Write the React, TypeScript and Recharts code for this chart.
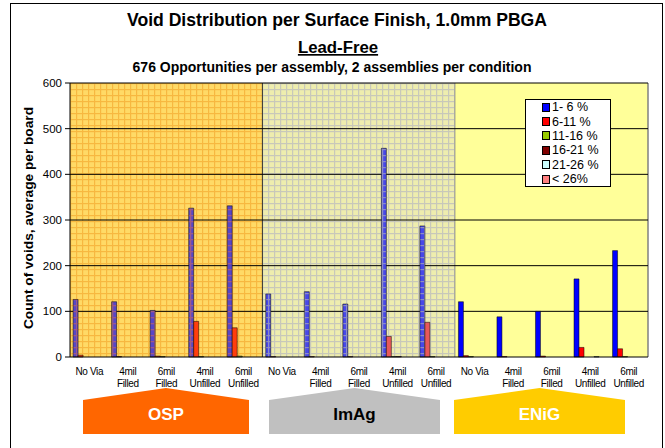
import React from "react";
import {
  BarChart, Bar, Cell, XAxis, YAxis, ReferenceArea, ReferenceLine,
} from "recharts";

const FINISHES = ["OSP", "ImAg", "ENiG"];
const VIAS = ["No Via", "4mil\nFilled", "6mil\nFilled", "4mil\nUnfilled", "6mil\nUnfilled"];
const SERIES_NAMES = ["1- 6 %", "6-11 %", "11-16 %", "16-21 %", "21-26 %", "< 26%"];

// values per category: OSP x5, ImAg x5, ENiG x5
const V_1_6 = [126, 121, 102, 326, 331, 138, 143, 116, 457, 287, 121, 88, 100, 171, 233];
const V_6_11 = [4, 1, 2, 78, 64, 1, 1, 1, 45, 76, 3, 1, 2, 21, 18];
const V_11_16 = [0, 0, 1, 1, 2, 0, 0, 0, 1, 1, 1, 0, 0, 0, 1];
const V_16_21 = [0, 0, 0, 0, 0, 0, 0, 0, 1, 0, 0, 0, 0, 0, 0];
const V_21_26 = [0, 0, 0, 0, 0, 0, 0, 0, 0, 0, 0, 0, 0, 1, 0];
const V_26 = [0, 0, 0, 0, 0, 0, 0, 0, 0, 0, 0, 0, 0, 0, 0];
const Y_TICKS = [0, 100, 200, 300, 400, 500, 600];

const SERIES = [V_1_6, V_6_11, V_11_16, V_16_21, V_21_26, V_26];
const LEGEND_COLORS = ["#0000ff", "#ff0000", "#99cc00", "#800000", "#ccffff", "#ff8080"];
// fill per series, per finish region (OSP / ImAg / ENiG)
const REGION_FILLS = [
  ["url(#ospBlue)", "url(#imagBlue)", "#0000ff"],
  ["#ff3d0d", "#e8585a", "#ff0000"],
  ["#a8c020", "#a0c040", "#99cc00"],
  ["#802010", "#803030", "#800000"],
  ["#d8f0d0", "#d0f0f0", "#ccffff"],
  ["#ff8060", "#f09090", "#ff8080"],
];
const REGION_BG = ["url(#ospBg)", "url(#imagBg)", "#ffff99"];
const REGION_EDGE = ["#000", "#808080", "#808080"];

const keyOf = (f: string, v: string) => `${f}|${v}`;

const rows = FINISHES.flatMap((f, fi) =>
  VIAS.map((v, vi) => {
    const i = fi * VIAS.length + vi;
    const row: Record<string, string | number> = { key: keyOf(f, v), region: fi };
    SERIES_NAMES.forEach((s, si) => { row[s] = SERIES[si][i]; });
    return row;
  })
);

const FONT = "'Liberation Sans', Arial, sans-serif";
const NARROW = "'Liberation Sans Narrow', 'Arial Narrow', 'Liberation Sans', sans-serif";

function ViaTick({ x, y, payload }: any) {
  const lines = String(payload.value).split("|")[1].split("\n");
  return (
    <text x={x} y={y + 10} textAnchor="middle" fontSize={10} letterSpacing={-0.35} fontFamily={NARROW} fill="#000">
      {lines.map((l, i) => (
        <tspan key={i} x={x} dy={i === 0 ? 0 : 11.7}>{l}</tspan>
      ))}
    </text>
  );
}

function RegionShape({ x, y, width, height, fill, edge }: any) {
  return (
    <g>
      <rect x={x} y={y} width={width} height={height} fill={fill} />
      <line x1={x + width} x2={x + width} y1={y} y2={y + height} stroke={edge} strokeWidth={1.5} />
    </g>
  );
}

function LegendBox() {
  return (
    <div style={{ position: "absolute", left: 525, top: 99, background: "#fff", border: "1px solid #000", width: 86, height: 88, boxSizing: "border-box", padding: "0 0 0 16px" }}>
      {SERIES_NAMES.map((s, i) => (
        <div key={s} style={{ display: "flex", alignItems: "center", height: 14.4, fontFamily: FONT, fontSize: 12.5, color: "#000", whiteSpace: "nowrap" }}>
          <span style={{ width: 6, height: 7, border: "1px solid #000", background: LEGEND_COLORS[i], marginRight: 2, display: "inline-block" }} />
          {s}
        </div>
      ))}
    </div>
  );
}

function Banner({ x1, x2, fill, label, color }: { x1: number; x2: number; fill: string; label: string; color: string }) {
  const mid = (x1 + x2) / 2;
  return (
    <g>
      <polygon points={`${x1},400 ${mid},388 ${x2},400 ${x2},434 ${x1},434`} fill={fill} />
      <text x={mid} y={420} textAnchor="middle" fontFamily={FONT} fontWeight="bold" fontSize={17} fill={color}>{label}</text>
    </g>
  );
}

export default function App() {
  return (
    <div style={{ position: "absolute", left: 0, top: 0, width: 665, height: 448, background: "#fff", overflow: "hidden" }}>
      <svg width={0} height={0} style={{ position: "absolute" }}>
        <defs>
          <pattern id="ospBg" patternUnits="userSpaceOnUse" width={6} height={6} x={70} y={83}>
            <rect width={6} height={6} fill="#ffda66" />
            <rect width={6} height={1.2} fill="#f7b840" />
            <rect width={1.2} height={6} fill="#f7b840" />
          </pattern>
          <pattern id="imagBg" patternUnits="userSpaceOnUse" width={6} height={6} x={70} y={83}>
            <rect width={6} height={6} fill="#eeedae" />
            <rect width={6} height={1.2} fill="#c8c8ba" />
            <rect width={1.2} height={6} fill="#c8c8ba" />
          </pattern>
          <pattern id="ospBlue" patternUnits="userSpaceOnUse" width={6} height={6} x={70} y={83}>
            <rect width={6} height={6} fill="#5846c6" />
            <rect width={6} height={1.3} fill="#9a5a8c" />
            <rect width={1.3} height={6} fill="#9a5a8c" />
          </pattern>
          <pattern id="imagBlue" patternUnits="userSpaceOnUse" width={6} height={6} x={70} y={83}>
            <rect width={6} height={6} fill="#4848e8" />
            <rect width={6} height={1.2} fill="#8c8cc8" />
            <rect width={1.2} height={6} fill="#8c8cc8" />
          </pattern>
        </defs>
      </svg>

      <div style={{ position: "absolute", left: 10, top: 3, width: 653, height: 470, border: "1.5px solid #000", boxSizing: "border-box" }} />

      <BarChart
        width={665}
        height={448}
        data={rows}
        margin={{ top: 83, right: 17, bottom: 0, left: 0 }}
        barCategoryGap="8%"
        barGap={0}
        style={{ position: "absolute", left: 0, top: 0 }}
      >
        <XAxis
          dataKey="key"
          interval={0}
          tick={<ViaTick />}
          tickLine={false}
          axisLine={{ stroke: "#000" }}
          height={91}
        />
        <YAxis
          domain={[0, 600]}
          ticks={Y_TICKS}
          width={70}
          tickSize={5}
          tickMargin={3}
          tick={{ fontSize: 11.5, fill: "#000", fontFamily: FONT }}
          axisLine={{ stroke: "#000" }}
          tickLine={{ stroke: "#000" }}
        />
        {FINISHES.map((f, i) => (
          <ReferenceArea
            key={f}
            x1={keyOf(f, VIAS[0])}
            x2={keyOf(f, VIAS[VIAS.length - 1])}
            y1={0}
            y2={600}
            shape={(p: any) => <RegionShape {...p} fill={REGION_BG[i]} edge={REGION_EDGE[i]} />}
            ifOverflow="visible"
            zIndex={-90}
          />
        ))}
        {Y_TICKS.slice(1).map((t) => (
          <ReferenceLine key={t} y={t} stroke="#000" strokeWidth={1} zIndex={-80} />
        ))}
        {SERIES_NAMES.map((s, si) => (
          <Bar key={s} dataKey={s} fill={LEGEND_COLORS[si]} stroke="#000" strokeWidth={0.5} isAnimationActive={false}>
            {rows.map((r, i) => (
              <Cell key={i} fill={REGION_FILLS[si][r.region as number]} />
            ))}
          </Bar>
        ))}
      </BarChart>

      <LegendBox />

      <svg width={665} height={448} style={{ position: "absolute", left: 0, top: 0, pointerEvents: "none" }}>
        <text x={337} y={26} textAnchor="middle" fontFamily={FONT} fontWeight="bold" fontSize={17.6}>
          Void Distribution per Surface Finish, 1.0mm PBGA
        </text>
        <text x={338} y={53} textAnchor="middle" fontFamily={FONT} fontWeight="bold" fontSize={16.8} textDecoration="underline">
          Lead-Free
        </text>
        <text x={332} y={72} textAnchor="middle" fontFamily={FONT} fontWeight="bold" fontSize={14}>
          676 Opportunities per assembly, 2 assemblies per condition
        </text>
        <text transform="translate(33,218) rotate(-90)" textAnchor="middle" fontFamily={FONT} fontWeight="bold" fontSize={13.7}>
          Count of voids, average per board
        </text>
        <Banner x1={83} x2={249} fill="#ff6600" label="OSP" color="#fff" />
        <Banner x1={269} x2={440} fill="#c0c0c0" label="ImAg" color="#000" />
        <Banner x1={454} x2={625} fill="#ffcc00" label="ENiG" color="#fff" />
      </svg>
    </div>
  );
}
